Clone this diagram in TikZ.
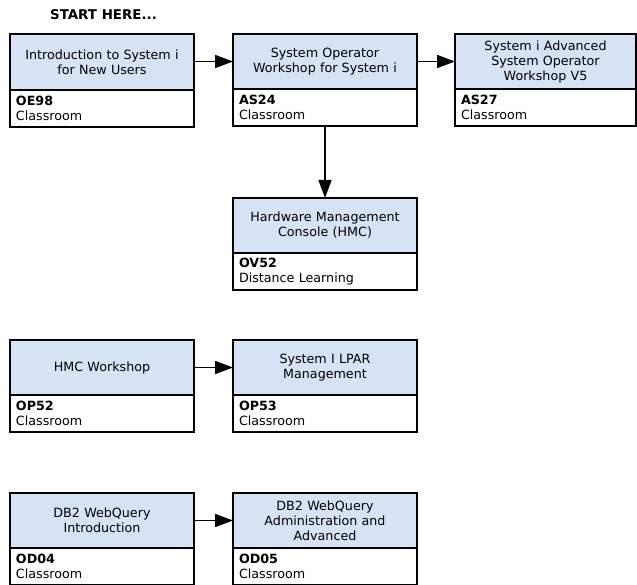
\documentclass[tikz,border=0pt]{standalone}
\usepackage{fontspec}
\setmainfont{DejaVu Sans}
\usepackage{tikz}
\usetikzlibrary{positioning,arrows.meta}
\definecolor{courseblue}{RGB}{214,227,245}
\tikzset{
    every node/.style={font=\fontsize{12.7}{15}\selectfont}
}
\tikzset{
    course/.style={rectangle, draw, fill=courseblue, line width=1.4pt,
    	minimum width=184pt, text width=174pt, minimum height=55pt,
    	align=center, inner sep=0pt, outer sep=0pt, anchor=north west},
    info/.style={rectangle, draw, fill=white, line width=1.4pt,
    	minimum width=184pt, text width=172pt, minimum height=37pt,
    	align=left, inner sep=0pt, outer sep=0pt, anchor=north}
}
\tikzset{
    every edge/.append style={line width=1.6pt, -{Triangle[length=18pt,width=13pt]}}
}

\begin{document}
\begin{tikzpicture}[x=1pt, y=-1pt]
	\useasboundingbox (0,0) rectangle (637,585);
	\node (start) [font=\fontsize{13.4}{15}\selectfont\bfseries] at (103.5, 15) {START HERE...};

	\node (oe98) [course, minimum height=56pt] at (10, 34) {Introduction to System i\\for New Users};
	\node (oe98i) [info] at (oe98.south) {\textbf{OE98}\\Classroom};
	\node (as24) [course] at (233, 34) {System Operator\\Workshop for System i};
	\node (as24i) [info] at (as24.south) {\textbf{AS24}\\Classroom};
	\node (as27) [course, minimum width=181pt, text width=171pt] at (455, 34) {System i Advanced\\System Operator\\Workshop V5};
	\node (as27i) [info, minimum width=181pt, text width=169pt] at (as27.south) {\textbf{AS27}\\Classroom};
	\node (ov52) [course] at (233, 198) {Hardware Management\\Console (HMC)};
	\node (ov52i) [info] at (ov52.south) {\textbf{OV52}\\Distance Learning};

	\node (op52) [course] at (10, 340) {HMC Workshop};
	\node (op52i) [info] at (op52.south) {\textbf{OP52}\\Classroom};
	\node (op53) [course] at (233, 340) {System I LPAR\\Management};
	\node (op53i) [info] at (op53.south) {\textbf{OP53}\\Classroom};

	\node (od04) [course] at (10, 493) {DB2 WebQuery\\Introduction};
	\node (od04i) [info] at (od04.south) {\textbf{OD04}\\Classroom};
	\node (od05) [course] at (233, 493) {DB2 WebQuery\\Administration and\\Advanced};
	\node (od05i) [info] at (od05.south) {\textbf{OD05}\\Classroom};

	\draw (oe98.east |- as24) edge (as24); \draw (as24) edge (as27);
	\draw (as24i) edge (ov52);
	\draw (op52) edge (op53);
	\draw (od04) edge (od05);
\end{tikzpicture}
\end{document}
